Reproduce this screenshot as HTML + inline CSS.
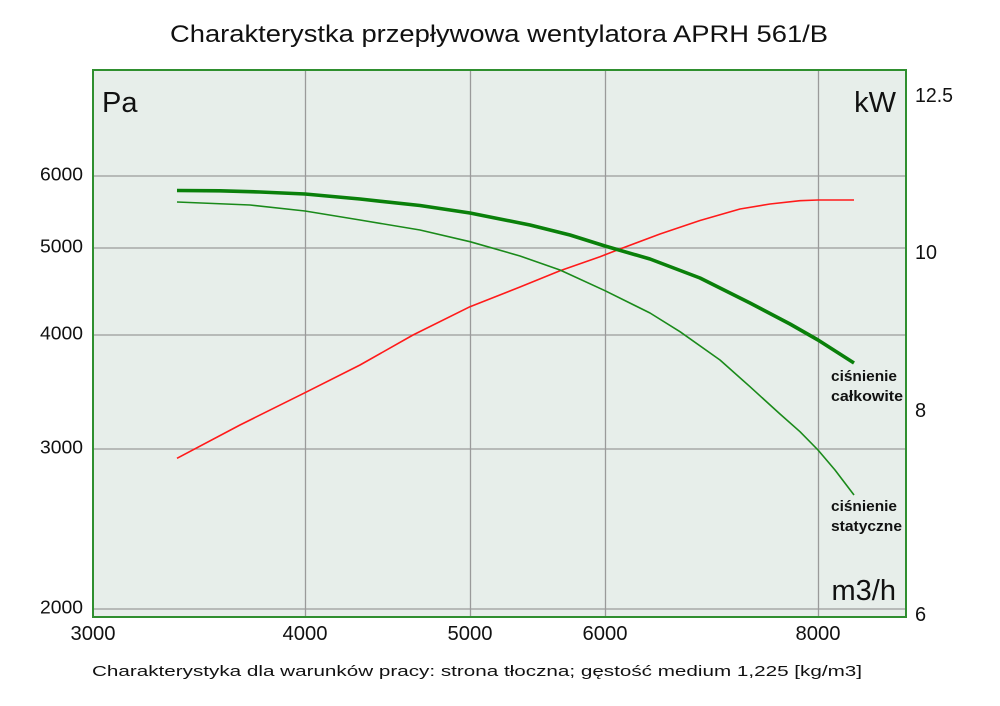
<!DOCTYPE html>
<html><head><meta charset="utf-8"><style>
html,body{margin:0;padding:0;background:#fff;}
svg{display:block;}
text{font-family:"Liberation Sans","DejaVu Sans",sans-serif;fill:#111;}
</style></head><body>
<svg width="1000" height="706" viewBox="0 0 1000 706" xmlns="http://www.w3.org/2000/svg">
<rect x="0" y="0" width="1000" height="706" fill="#fff"/>
<text x="170" y="42" font-size="24" textLength="658" lengthAdjust="spacingAndGlyphs">Charakterystka przepływowa wentylatora APRH 561/B</text>
<rect x="93" y="70" width="813" height="547" fill="#e7eeea"/>
<g stroke="#9a9a9a" stroke-width="1.3" fill="none">
<line x1="93" y1="176" x2="906" y2="176"/>
<line x1="93" y1="248" x2="906" y2="248"/>
<line x1="93" y1="335" x2="906" y2="335"/>
<line x1="93" y1="449" x2="906" y2="449"/>
<line x1="93" y1="609" x2="906" y2="609"/>
<line x1="305.5" y1="70" x2="305.5" y2="617"/>
<line x1="470.5" y1="70" x2="470.5" y2="617"/>
<line x1="605.5" y1="70" x2="605.5" y2="617"/>
<line x1="818.5" y1="70" x2="818.5" y2="617"/>
</g>
<rect x="93" y="70" width="813" height="547" fill="none" stroke="#2f8f2f" stroke-width="2"/>
<polyline fill="none" stroke="#ff1a1a" stroke-width="1.6" stroke-linejoin="round" points="177,458.3 240,425 305,392.7 360,365 413,335 470,306.7 520,287 560,270.7 600,256.7 620,249 660,234 700,220.5 740,209 770,204 800,200.7 818,200 854,200"/>
<polyline fill="none" stroke="#1a8a1a" stroke-width="1.6" stroke-linejoin="round" points="177,202 250,205 305,211 360,220 420,230 470,241.7 520,256 560,270 605,290.7 650,313 680,331.7 720,360 750,386.7 780,414 800,431.7 818,450 835,470 854,495"/>
<polyline fill="none" stroke="#0a800a" stroke-width="3.6" stroke-linejoin="round" points="177,190.5 220,190.8 260,192 305,194 360,199 420,205.5 470,213 530,225 570,235 605,246 650,259 700,278 750,303 790,324 818,340 854,363"/>
<text x="102" y="112" font-size="29">Pa</text>
<text x="896" y="112" font-size="29" text-anchor="end">kW</text>
<text x="896" y="600" font-size="29" text-anchor="end">m3/h</text>
<g font-size="15" font-weight="bold" fill="#111">
<text x="831" y="381" textLength="66" lengthAdjust="spacingAndGlyphs">ciśnienie</text>
<text x="831" y="401" textLength="72" lengthAdjust="spacingAndGlyphs">całkowite</text>
<text x="831" y="511" textLength="66" lengthAdjust="spacingAndGlyphs">ciśnienie</text>
<text x="831" y="531" textLength="71" lengthAdjust="spacingAndGlyphs">statyczne</text>
</g>
<g font-size="18" text-anchor="end">
<text x="83" y="180.5" textLength="43" lengthAdjust="spacingAndGlyphs">6000</text>
<text x="83" y="252.5" textLength="43" lengthAdjust="spacingAndGlyphs">5000</text>
<text x="83" y="339.5" textLength="43" lengthAdjust="spacingAndGlyphs">4000</text>
<text x="83" y="453.5" textLength="43" lengthAdjust="spacingAndGlyphs">3000</text>
<text x="83" y="613.5" textLength="43" lengthAdjust="spacingAndGlyphs">2000</text>
</g>
<g font-size="20" text-anchor="middle">
<text x="93" y="640" textLength="45" lengthAdjust="spacingAndGlyphs">3000</text>
<text x="305" y="640" textLength="45" lengthAdjust="spacingAndGlyphs">4000</text>
<text x="470" y="640" textLength="45" lengthAdjust="spacingAndGlyphs">5000</text>
<text x="605" y="640" textLength="45" lengthAdjust="spacingAndGlyphs">6000</text>
<text x="818" y="640" textLength="45" lengthAdjust="spacingAndGlyphs">8000</text>
</g>
<g font-size="20">
<text x="915" y="102" textLength="38" lengthAdjust="spacingAndGlyphs">12.5</text>
<text x="915" y="259" textLength="22" lengthAdjust="spacingAndGlyphs">10</text>
<text x="915" y="417">8</text>
<text x="915" y="621">6</text>
</g>
<text x="92" y="676" font-size="15" textLength="770" lengthAdjust="spacingAndGlyphs">Charakterystyka dla warunków pracy: strona tłoczna; gęstość medium 1,225 [kg/m3]</text>
</svg>
</body></html>
